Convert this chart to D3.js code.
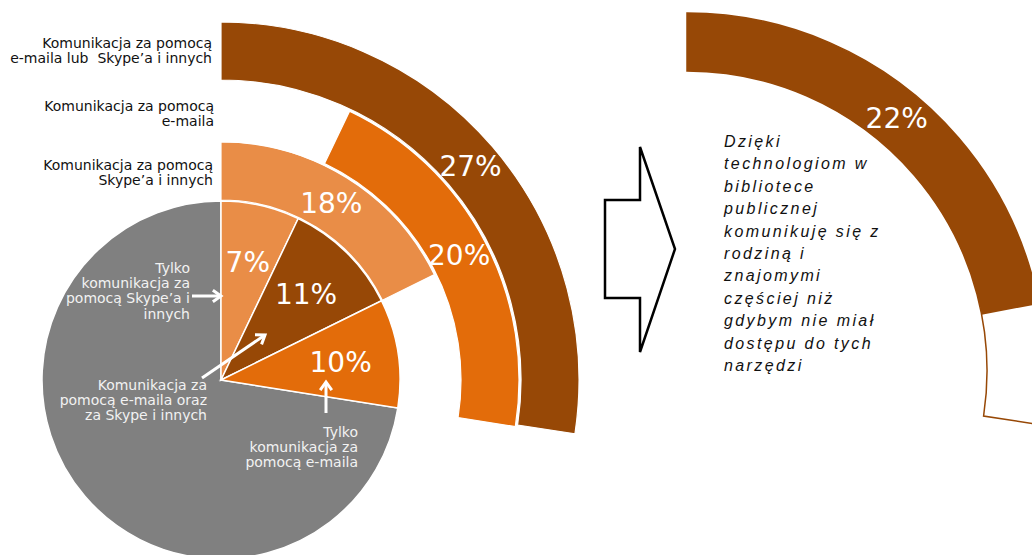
<!DOCTYPE html>
<html><head><meta charset="utf-8">
<script src="https://cdn.jsdelivr.net/npm/d3@7"></script>
<style>body{margin:0;background:#fff} svg{display:block} text{white-space:pre}</style>
</head><body><svg id="c" width="1032" height="555"></svg>
<script>
// Inner pie slices (% of respondents)
const sliceNames = ["Tylko komunikacja za pomocą Skype’a i innych", "Komunikacja za pomocą e-maila oraz za Skype i innych", "Tylko komunikacja za pomocą e-maila"];
const sliceValues = [7.1, 10.6, 9.8];
const sliceColors = ["#E98D47", "#974806", "#E36C0A"];
const restColor = "#808080";

// Outer rings
const ringLegend = [["Komunikacja za pomocą", "e-maila lub  Skype’a i innych"], ["Komunikacja za pomocą", "e-maila"], ["Komunikacja za pomocą", "Skype’a i innych"]];
const ringStart = [0, 7.1, 0];
const ringValues = [27.4, 20.4, 17.7];
const ringLevel = [3, 2, 1];
const ringColors = ["#974806", "#E36C0A", "#E98D47"];

// Right ring
const rightValue = 22;
const rightOutlineEnd = 27.4;
const rightText = ["Dzięki", "technologiom w", "bibliotece", "publicznej", "komunikuję się z", "rodziną i", "znajomymi", "częściej niż", "gdybym nie miał", "dostępu do tych", "narzędzi"];

// slice annotation labels
const annoLines = [
  ["Tylko", "komunikacja za", "pomocą Skype’a i", "innych"],
  ["Komunikacja za", "pomocą e-maila oraz", "za Skype i innych"],
  ["Tylko", "komunikacja za", "pomocą e-maila"]
];

const svg = d3.select("#c");
const ang = d3.scaleLinear().domain([0, 100]).range([0, 2 * Math.PI]);
const pieR = 179, ringW = 58, ringGap = 2;
const rIn = lv => pieR + ringGap / 2 + (lv - 1) * (ringW + ringGap);
const rOut = lv => rIn(lv) + ringW;
const pct = v => Math.round(v) + "%";
const numFont = "DejaVu Sans, Verdana, sans-serif";

const L = svg.append("g").attr("transform", "translate(221,380)");

// gray rest of pie
const total = d3.sum(sliceValues);
L.append("path")
  .attr("d", d3.arc()({innerRadius: 0, outerRadius: pieR, startAngle: ang(total), endAngle: ang(100)}))
  .attr("fill", restColor).attr("stroke", "#fff").attr("stroke-width", 1.5);

// slices
const cum = d3.cumsum(sliceValues);
const slices = sliceValues.map((v, i) => ({v, i, s: cum[i] - v, e: cum[i]}));
const sArc = d3.arc().innerRadius(0).outerRadius(pieR);
L.selectAll(".sl").data(slices).join("path")
  .attr("d", d => sArc({startAngle: ang(d.s), endAngle: ang(d.e)}))
  .attr("fill", d => sliceColors[d.i]).attr("stroke", "#fff").attr("stroke-width", 1.5);

// rings
const rings = ringValues.map((v, i) => ({v, i, s: ringStart[i], e: ringStart[i] + v, lv: ringLevel[i]}));
L.selectAll(".rg").data(rings).join("path")
  .attr("d", d => d3.arc()({innerRadius: rIn(d.lv), outerRadius: rOut(d.lv), startAngle: ang(d.s), endAngle: ang(d.e)}))
  .attr("fill", d => ringColors[d.i]).attr("stroke", "#fff").attr("stroke-width", 1.2);

// ring labels
L.selectAll(".rl").data(rings).join("text")
  .attr("transform", d => {
    const c = d3.arc().innerRadius(rIn(d.lv)).outerRadius(rOut(d.lv)).centroid({startAngle: ang(d.s), endAngle: ang(d.e)});
    return `translate(${c})`;
  })
  .attr("text-anchor", "middle").attr("dy", "0.36em")
  .attr("font-family", numFont).attr("font-size", 28).attr("fill", "#fff")
  .text(d => pct(d.v));

// slice labels
L.selectAll(".sll").data(slices).join("text")
  .attr("transform", d => {
    const c = d3.arc().innerRadius(121).outerRadius(121).centroid({startAngle: ang(d.s), endAngle: ang(d.e)});
    return `translate(${c})`;
  })
  .attr("text-anchor", "middle").attr("dy", "0.36em")
  .attr("font-family", numFont).attr("font-size", 28).attr("fill", "#fff")
  .text(d => pct(d.v));

// legend texts for rings (left)
const legendY = [48, 111, 170];
const legendX = [212, 214, 213];
ringLegend.forEach((lines, i) => {
  const t = svg.append("text").attr("font-family", numFont).attr("font-size", 14)
    .attr("fill", "#111").attr("text-anchor", "end").attr("xml:space", "preserve");
  lines.forEach((ln, j) => t.append("tspan").attr("x", legendX[i]).attr("y", legendY[i] + j * 14.5).text(ln));
});

// annotations inside gray
const annoPos = [[190, 273], [207, 390], [358, 437]];
annoLines.forEach((lines, i) => {
  const t = svg.append("text").attr("font-family", numFont).attr("font-size", 14)
    .attr("fill", "#f2f2f2").attr("text-anchor", "end");
  lines.forEach((ln, j) => t.append("tspan").attr("x", annoPos[i][0]).attr("y", annoPos[i][1] + j * 15.2).text(ln));
});

function arrow(x1, y1, x2, y2) {
  const a = Math.atan2(y2 - y1, x2 - x1), h = 10, w = 0.62;
  const p = [[x2 - h * Math.cos(a - w), y2 - h * Math.sin(a - w)], [x2, y2], [x2 - h * Math.cos(a + w), y2 - h * Math.sin(a + w)]];
  svg.append("line").attr("x1", x1).attr("y1", y1).attr("x2", x2).attr("y2", y2)
    .attr("stroke", "#fff").attr("stroke-width", 3);
  svg.append("path").attr("d", d3.line()(p)).attr("fill", "none")
    .attr("stroke", "#fff").attr("stroke-width", 3).attr("stroke-linejoin", "miter");
}
arrow(192, 296, 221, 296);
arrow(202, 378, 265, 335);
arrow(326, 413, 326, 382);

// big outline arrow
const arrowPts = [[605, 200], [640, 200], [640, 147], [675, 249], [640, 352], [640, 298], [605, 298]];
svg.append("path").attr("d", d3.line()(arrowPts) + "Z")
  .attr("fill", "#fff").attr("stroke", "#000").attr("stroke-width", 2.5).attr("stroke-linejoin", "miter");

// right ring
const R = svg.append("g").attr("transform", "translate(687,371)");
R.append("path")
  .attr("d", d3.arc()({innerRadius: rIn(3), outerRadius: rOut(3), startAngle: ang(0), endAngle: ang(rightOutlineEnd)}))
  .attr("fill", "#fff").attr("stroke", "#974806").attr("stroke-width", 1.5);
R.append("path")
  .attr("d", d3.arc()({innerRadius: rIn(3), outerRadius: rOut(3), startAngle: ang(0), endAngle: ang(rightValue)}))
  .attr("fill", "#974806");
const rc = d3.arc().innerRadius(rIn(3)).outerRadius(rOut(3)).centroid({startAngle: ang(0), endAngle: ang(rightValue)});
R.append("text").attr("transform", `translate(${rc})`).attr("text-anchor", "middle").attr("dy", "0.36em")
  .attr("font-family", numFont).attr("font-size", 28).attr("fill", "#fff").text(pct(rightValue));

// italic text
const it = svg.append("text").attr("font-family", "Liberation Sans, Arial, sans-serif")
  .attr("font-style", "italic").attr("font-size", 16).attr("letter-spacing", 2.4).attr("fill", "#111");
rightText.forEach((ln, j) => it.append("tspan").attr("x", 724).attr("y", 147 + j * 22.4).text(ln));
</script></body></html>
